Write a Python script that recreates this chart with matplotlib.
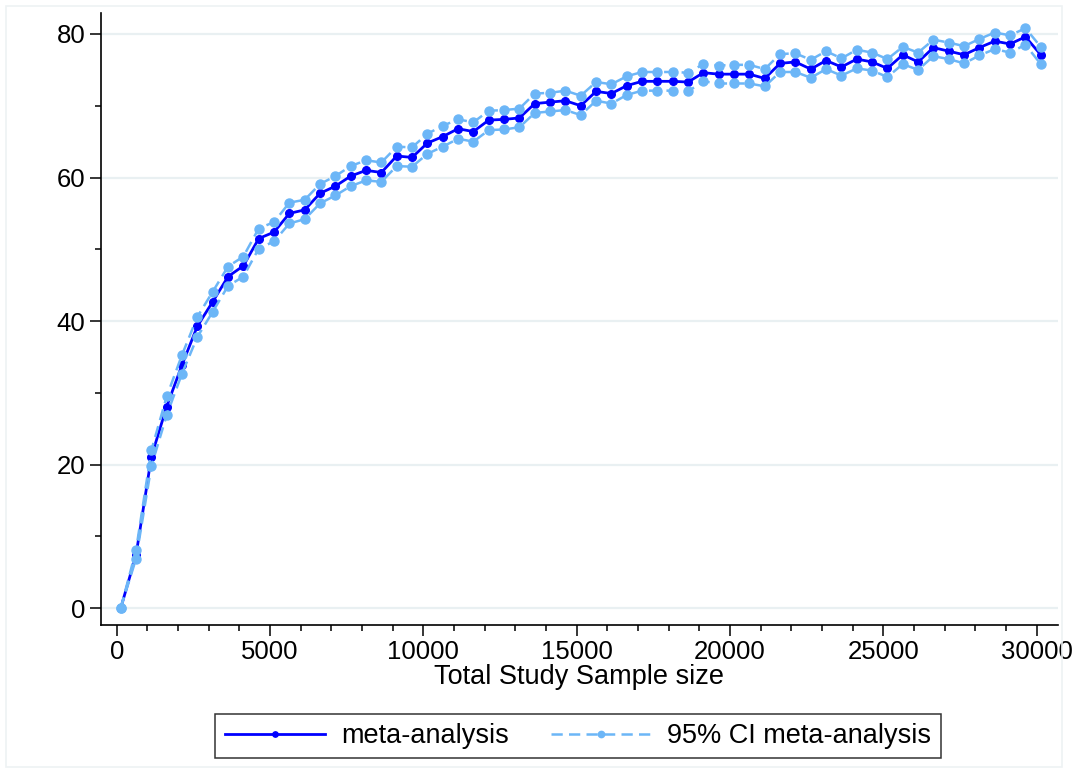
import matplotlib
matplotlib.use('Agg')
import matplotlib.pyplot as plt
from matplotlib.patches import Rectangle
from matplotlib.ticker import MultipleLocator

plt.rcParams['font.family'] = ['Liberation Sans', 'DejaVu Sans']

# total study sample size (cumulative)
sample_size = [130, 630, 1130, 1630, 2130, 2630, 3130, 3630, 4130, 4630,
               5130, 5630, 6130, 6630, 7130, 7630, 8130, 8630, 9130, 9630,
               10130, 10630, 11130, 11630, 12130, 12630, 13130, 13630, 14130, 14630,
               15130, 15630, 16130, 16630, 17130, 17630, 18130, 18630, 19130, 19630,
               20130, 20630, 21130, 21630, 22130, 22630, 23130, 23630, 24130, 24630,
               25130, 25630, 26130, 26630, 27130, 27630, 28130, 28630, 29130, 29630,
               30130]

meta = [0, 7.4, 21.1, 28.1, 33.9, 39.3, 42.7, 46.2, 47.7, 51.5,
        52.4, 55.0, 55.5, 57.8, 58.8, 60.2, 61.0, 60.7, 63.0, 62.8,
        64.8, 65.7, 66.8, 66.4, 68.0, 68.1, 68.3, 70.3, 70.5, 70.7,
        70.0, 72.0, 71.7, 72.8, 73.4, 73.4, 73.4, 73.3, 74.6, 74.4,
        74.4, 74.4, 73.8, 75.9, 76.1, 75.1, 76.3, 75.4, 76.5, 76.1,
        75.2, 77.1, 76.1, 78.1, 77.6, 77.1, 78.1, 79.0, 78.6, 79.6,
        77.1]

ci_upper = [0, 8.1, 22.0, 29.5, 35.3, 40.6, 44.1, 47.6, 49.0, 52.9,
            53.8, 56.5, 56.9, 59.1, 60.2, 61.6, 62.4, 62.1, 64.3, 64.2,
            66.1, 67.2, 68.1, 67.7, 69.3, 69.4, 69.6, 71.7, 71.8, 72.1,
            71.4, 73.3, 73.0, 74.1, 74.7, 74.7, 74.7, 74.6, 75.8, 75.6,
            75.7, 75.7, 75.1, 77.2, 77.3, 76.4, 77.6, 76.6, 77.8, 77.4,
            76.5, 78.2, 77.4, 79.2, 78.8, 78.3, 79.3, 80.2, 79.8, 80.8,
            78.2]

ci_lower = [0, 6.9, 19.8, 26.9, 32.7, 37.8, 41.3, 44.9, 46.2, 50.1,
            51.1, 53.6, 54.2, 56.4, 57.5, 58.8, 59.6, 59.4, 61.6, 61.5,
            63.3, 64.3, 65.4, 65.0, 66.6, 66.7, 67.0, 69.0, 69.2, 69.4,
            68.7, 70.7, 70.3, 71.5, 72.1, 72.1, 72.1, 72.0, 73.4, 73.1,
            73.1, 73.1, 72.7, 74.7, 74.7, 73.9, 75.1, 74.2, 75.2, 74.9,
            74.0, 75.8, 75.0, 76.9, 76.5, 75.9, 77.0, 77.9, 77.4, 78.5,
            75.8]

main_col = '#0000ff'
ci_col = '#6cb6f7'

fig = plt.figure(figsize=(10.81, 7.73), dpi=100)
fig.patches.append(Rectangle((6/1081, 6/773), 1056/1081, 761/773,
                             transform=fig.transFigure, fill=False,
                             edgecolor='#eef2f4', linewidth=1.2))
ax = fig.add_axes([100.7/1081, 1-625/773, 957/1081, 612.3/773])

ax.plot(sample_size, meta, color=main_col, lw=2, marker='o', ms=5.5,
        label='meta-analysis', zorder=3)
ax.plot(sample_size, ci_upper, color=ci_col, lw=1.8, ls=(0, (4.5, 2.5)),
        marker='o', ms=6.5, label='95% CI meta-analysis', zorder=4)
ax.plot(sample_size, ci_lower, color=ci_col, lw=1.8, ls=(0, (4.5, 2.5)),
        marker='o', ms=6.5, zorder=4)

ax.set_xlim(-522, 30682)
ax.set_ylim(-2.33, 82.96)
ax.set_xticks([0, 5000, 10000, 15000, 20000, 25000, 30000])
ax.set_yticks([0, 20, 40, 60, 80])
ax.xaxis.set_minor_locator(MultipleLocator(1000))
ax.yaxis.set_minor_locator(MultipleLocator(10))
ax.tick_params(which='major', length=8, width=1.1, labelsize=18.5, pad=3)
ax.tick_params(which='minor', length=4, width=1.1)
ax.grid(axis='y', which='major', color='#e9f0f2', lw=1.6, zorder=0)
ax.set_axisbelow(True)
for s in ['top', 'right']:
    ax.spines[s].set_visible(False)
for s in ['left', 'bottom']:
    ax.spines[s].set_linewidth(1.2)

ax.set_xlabel('Total Study Sample size', fontsize=19.5, labelpad=0)

leg = fig.legend(loc='center', bbox_to_anchor=(578/1081, 1-736/773), ncol=2,
                 fontsize=19.5, frameon=True, fancybox=False, handlelength=3.7,
                 handletextpad=0.6, columnspacing=1.55, borderpad=0.35,
                 markerscale=0.7)
leg.get_frame().set_edgecolor('black')
leg.get_frame().set_linewidth(1.1)

fig.savefig('out.png', dpi=100)
